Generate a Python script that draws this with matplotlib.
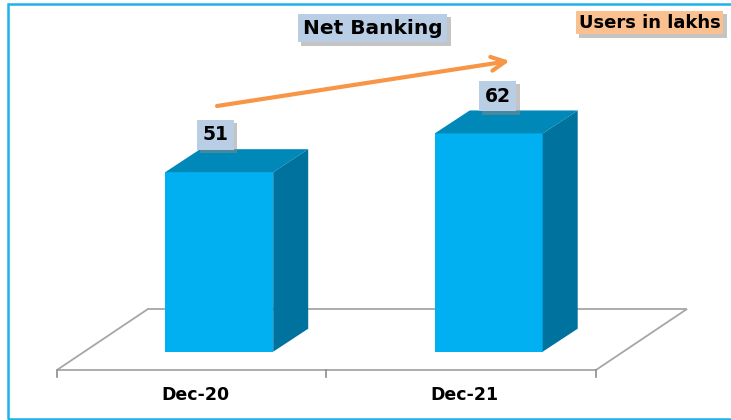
import matplotlib
matplotlib.use("Agg")
import matplotlib.pyplot as plt
from matplotlib.patches import Polygon, Rectangle
from matplotlib import patheffects as pe

# Data
categories = ["Dec-20", "Dec-21"]
users_lakhs = [51, 62]
title_text = "Net Banking"
unit_text = "Users in lakhs"

# Colours
FRONT = "#00B0F0"
TOP = "#0088B8"
SIDE = "#00729E"
FLOOR = "#A6A6A6"
FRAME = "#1DB3EA"
LABEL_BG = "#B9CDE5"
UNIT_BG = "#FAC090"
ARROW = "#F79646"

W, H = 731, 420
fig = plt.figure(figsize=(W / 100, H / 100), dpi=100)
ax = fig.add_axes([0, 0, 1, 1])

# Axis scales: one category per unit on x, one user-lakh per unit on y
px_per_cat = 269.5
px_per_val = 3.52
x0_px, base_px = 219.2, 351.7
ax.set_xlim(-x0_px / px_per_cat, (W - x0_px) / px_per_cat)
ax.set_ylim((base_px - H) / px_per_val, base_px / px_per_val)
ax.axis("off")

bar_w = 108 / px_per_cat
dx = 35 / px_per_cat      # oblique depth of the bars
dy = 23 / px_per_val

# Floor parallelogram
f_front_y = (base_px - 370) / px_per_val
f_back_y = (base_px - 309) / px_per_val
f_left = -0.602
f_right = f_left + len(categories)
f_dx = 91 / px_per_cat
floor = Polygon([(f_left, f_front_y), (f_right, f_front_y),
                 (f_right + f_dx, f_back_y), (f_left + f_dx, f_back_y)],
                closed=True, facecolor="white", edgecolor=FLOOR, lw=1.3, zorder=1)
ax.add_patch(floor)
tick_bottom = (base_px - 377) / px_per_val
for k in range(len(categories) + 1):
    ax.plot([f_left + k, f_left + k], [f_front_y, tick_bottom], color="#8C8C8C", lw=1.2, zorder=1)

# 3D bars
xs = list(range(len(categories)))
ax.bar(xs, users_lakhs, width=bar_w, color=FRONT, zorder=3, linewidth=0)
for x, v in zip(xs, users_lakhs):
    l, r = x - bar_w / 2, x + bar_w / 2
    ax.add_patch(Polygon([(l, v), (r, v), (r + dx, v + dy), (l + dx, v + dy)],
                         closed=True, facecolor=TOP, edgecolor="none", zorder=3))
    ax.add_patch(Polygon([(r, 0), (r, v), (r + dx, v + dy), (r + dx, dy)],
                         closed=True, facecolor=SIDE, edgecolor="none", zorder=3))

# Category labels
for x, c in zip(xs, categories):
    ax.text(x - 0.09, (base_px - 395) / px_per_val, c, ha="center", va="center",
            fontsize=12.5, fontweight="bold", color="black", zorder=5)


def boxed(x, y, s, size, bg, trans, pad):
    t = ax.text(x, y, s, transform=trans, ha="center", va="center", fontsize=size,
                fontweight="bold", color="black",
                bbox=dict(boxstyle=f"square,pad={pad}", fc=bg, ec="none"), zorder=7)
    t.get_bbox_patch().set_path_effects([
        pe.SimplePatchShadow(offset=(2.5, -2.5), shadow_rgbFace="#8A8A8A", alpha=0.5),
        pe.Normal()])
    return t


# Value labels above each bar (small horizontal nudges per label)
label_nudge = [-0.015, 0.033]
for x, v, n in zip(xs, users_lakhs, label_nudge):
    boxed(x + n, v + 10.6, str(v), 13.5, LABEL_BG, ax.transData, 0.3)

# Growth arrow
ax.annotate("", xy=(1.078, users_lakhs[1] + 20.6), xytext=(-0.008, users_lakhs[0] + 18.8),
            arrowprops=dict(arrowstyle="->,head_length=1.0,head_width=0.5",
                            color=ARROW, lw=3, shrinkA=0, shrinkB=0), zorder=4)

# Title and unit boxes
boxed(372.5 / W, 1 - 28 / H, title_text, 14.5, LABEL_BG, fig.transFigure, 0.24)
boxed(649.5 / W, 1 - 22.5 / H, unit_text, 13, UNIT_BG, fig.transFigure, 0.15)

# Outer frame (open on the right edge)
fig.patches.append(Rectangle((8 / W, 1 / H), 1.1, 1 - 4.5 / H, transform=fig.transFigure,
                             fill=False, edgecolor=FRAME, lw=1.8, zorder=10))

fig.savefig("out.png", dpi=100)
